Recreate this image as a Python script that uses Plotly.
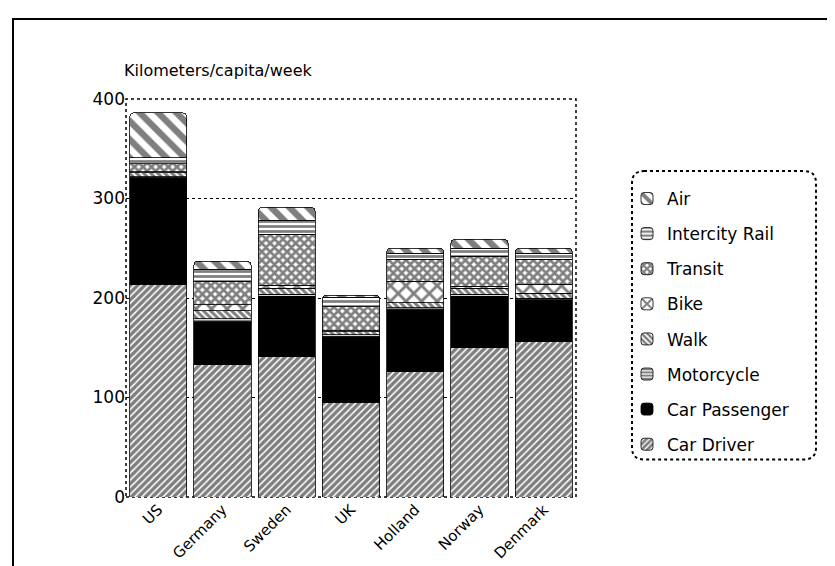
import plotly.graph_objects as go

countries = ["US", "Germany", "Sweden", "UK", "Holland", "Norway", "Denmark"]

car_driver = [214, 133, 141, 95, 126, 150, 156]
car_passenger = [107, 43, 61, 66, 62, 52, 42]
motorcycle = [1, 3, 2, 2, 2, 2, 2]
walk = [4, 8, 6, 3, 5, 6, 5]
bike = [1, 6, 3, 1, 22, 2, 9]
transit = [8, 24, 51, 24, 22, 30, 25]
intercity_rail = [6, 12, 14, 10, 6, 8, 6]
air = [45, 8, 13, 2, 5, 9, 5]

y_ticks = [0, 100, 200, 300, 400]

series = [
    ("Car Driver", car_driver, dict(shape="/", size=5, solidity=0.7), 8),
    ("Car Passenger", car_passenger, None, 7),
    ("Motorcycle", motorcycle, dict(shape="-", size=4, solidity=0.65), 6),
    ("Walk", walk, dict(shape="\\", size=5, solidity=0.6), 5),
    ("Bike", bike, dict(shape="x", size=11, solidity=0.45), 4),
    ("Transit", transit, dict(shape="x", size=6, solidity=0.7), 3),
    ("Intercity Rail", intercity_rail, dict(shape="-", size=5, solidity=0.55), 2),
    ("Air", air, dict(shape="\\", size=13, solidity=0.5), 1),
]

fig = go.Figure()
for name, vals, pat, rank in series:
    if pat is None:
        marker = dict(color="black", line=dict(color="black", width=0.8))
    else:
        marker = dict(color="white", line=dict(color="black", width=0.8),
                      pattern=dict(fgcolor="black", bgcolor="white", fillmode="overlay", **pat))
    fig.add_trace(go.Bar(x=countries, y=vals, name=name, marker=marker,
                         legendgroup=name, legendrank=rank))

L, R, T, B = 118, 267, 91, 72
W, H = 835, 566
pw, ph = W - L - R, H - T - B

def px(xp):
    return (xp - L) / pw

def py(yp):
    return (H - B - yp) / ph

# legend rounded box
x0, x1, y0, y1 = px(624), px(808), py(456), py(164)
rx, ry = 12 / pw, 12 / ph
path = (f"M {x0+rx},{y1} L {x1-rx},{y1} Q {x1},{y1} {x1},{y1-ry} "
        f"L {x1},{y0+ry} Q {x1},{y0} {x1-rx},{y0} L {x0+rx},{y0} "
        f"Q {x0},{y0} {x0},{y0+ry} L {x0},{y1-ry} Q {x0},{y1} {x0+rx},{y1} Z")

shapes = [
    dict(type="rect", xref="paper", yref="paper", x0=0, x1=1, y0=0, y1=1,
         line=dict(color="black", width=1.5, dash="dot"), layer="below"),
    dict(type="path", xref="paper", yref="paper", path=path,
         line=dict(color="black", width=2, dash="dot")),
    dict(type="rect", xref="paper", yref="paper", x0=px(5), x1=px(830), y0=py(620), y1=py(10),
         line=dict(color="black", width=2)),
]

fig.update_layout(
    width=W, height=H,
    margin=dict(l=L, r=R, t=T, b=B),
    barmode="stack",
    bargap=0.11,
    plot_bgcolor="white",
    paper_bgcolor="white",
    font=dict(family="DejaVu Sans", color="black", size=14),
    shapes=shapes,
    showlegend=True,
    legend=dict(x=px(619), y=py(174), xanchor="left", yanchor="top",
                bgcolor="rgba(0,0,0,0)", borderwidth=0,
                traceorder="grouped", tracegroupgap=10,
                font=dict(size=17, family="DejaVu Sans")),
    annotations=[dict(text="Kilometers/capita/week", xref="paper", yref="paper",
                      x=-0.01, y=py(62), xanchor="left", yanchor="middle",
                      showarrow=False, font=dict(size=16, family="DejaVu Sans"))],
)
fig.update_traces(marker_cornerradius=4)
fig.update_xaxes(tickangle=-45, showline=False, ticks="", tickfont=dict(size=15))
fig.update_yaxes(range=[0, 400], tickvals=y_ticks, showgrid=True, gridcolor="black",
                 griddash="dot", gridwidth=1, zeroline=False, showline=False,
                 ticks="", tickfont=dict(size=17))

fig.write_html("out.html")
